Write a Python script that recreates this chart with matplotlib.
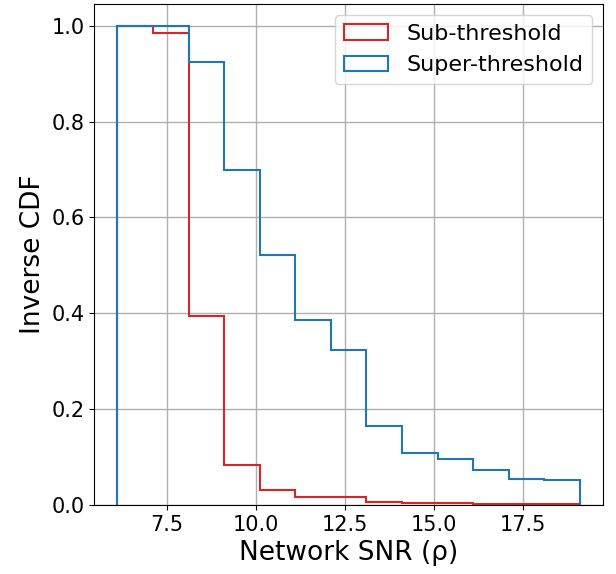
import matplotlib
matplotlib.use("Agg")
import matplotlib.pyplot as plt
from matplotlib.ticker import MultipleLocator

# bin edges of network SNR
snr_edges = [6.1, 7.1, 8.1, 9.1, 10.1, 11.1, 12.1, 13.1, 14.1, 15.1, 16.1, 17.1, 18.1, 19.1]

# inverse CDF per bin
sub_threshold = [1.0, 0.984, 0.394, 0.083, 0.031, 0.017, 0.017, 0.007, 0.005, 0.004, 0.003, 0.002, 0.002]
super_threshold = [1.0, 1.0, 0.925, 0.699, 0.521, 0.387, 0.323, 0.166, 0.109, 0.096, 0.074, 0.055, 0.053]

fig = plt.figure(figsize=(6.16, 5.74), dpi=100)
ax = fig.add_axes([0.153, 0.12, 0.826, 0.873])

ax.hist(snr_edges[:-1], bins=snr_edges, weights=sub_threshold, histtype="step",
        color="tab:red", lw=1.5, label="Sub-threshold")
ax.hist(snr_edges[:-1], bins=snr_edges, weights=super_threshold, histtype="step",
        color="tab:blue", lw=1.5, label="Super-threshold")

ax.set_ylim(0, 1.045)
ax.xaxis.set_major_locator(MultipleLocator(2.5))
ax.grid(True, lw=1)
ax.set_xlabel("Network SNR (ρ)", fontsize=19)
ax.set_ylabel("Inverse CDF", fontsize=19)
ax.tick_params(labelsize=15)
ax.legend(loc="upper right", fontsize=16)

fig.savefig("out.png", dpi=100)
